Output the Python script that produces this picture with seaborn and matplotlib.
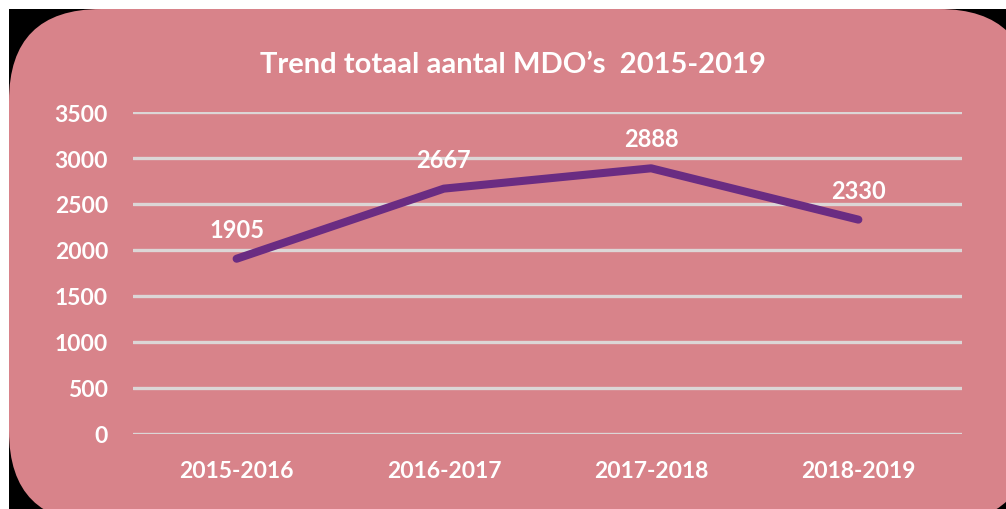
import matplotlib
matplotlib.use("Agg")
import matplotlib.pyplot as plt
from matplotlib.patches import FancyBboxPatch, Rectangle
import pandas as pd
import seaborn as sns

periods = ["2015-2016", "2016-2017", "2017-2018", "2018-2019"]
totals = [1905, 2667, 2888, 2330]
y_ticks = [0, 500, 1000, 1500, 2000, 2500, 3000, 3500]
title = "Trend totaal aantal MDO\u2019s  2015-2019"

pink = "#D8838A"
purple = "#6A2C82"
grid_c = "#DCD6D6"

sns.set_style("white")
plt.rcParams["font.family"] = ["Lato", "DejaVu Sans"]
plt.rcParams["font.weight"] = "bold"

df = pd.DataFrame({"periode": periods, "totaal": totals})
df["pos"] = range(len(df))

W, H = 1006, 510
fig = plt.figure(figsize=(W / 100, H / 100), dpi=100)
fig.patch.set_facecolor("white")

# black frame behind the rounded pink panel
fig.patches.append(Rectangle((9 / W, 0), 1, 1 - 10 / H, transform=fig.transFigure,
                             facecolor="black", edgecolor="none", zorder=-2))
r = 92
fig.patches.append(FancyBboxPatch((9, -14), 1022, 510 - 10 + 14, boxstyle=f"round,pad=0,rounding_size={r}",
                                  transform=None, facecolor=pink, edgecolor="none", zorder=-1))

ax = fig.add_axes([133 / W, 1 - 435 / H, (962 - 133) / W, (435 - 113) / H])
ax.set_facecolor("none")
ax.set_xlim(-0.5, 3.5)
ax.set_ylim(0, 3500)

for yv in y_ticks:
    ax.axhline(yv, color=grid_c, lw=2.4, zorder=1)

sns.lineplot(data=df, x="pos", y="totaal", ax=ax, color=purple, lw=5.8,
             solid_capstyle="round", zorder=3)

for x, v in zip(df["pos"], df["totaal"]):
    ax.annotate(str(v), (x, v), xytext=(0, 13), textcoords="offset points",
                ha="center", va="bottom", color="white", fontsize=17, fontweight="bold")

ax.set_xticks(df["pos"])
ax.set_xticklabels(periods)
ax.set_yticks(y_ticks)
ax.tick_params(axis="both", length=0, colors="white", labelsize=16.5)
ax.tick_params(axis="x", pad=19)
ax.tick_params(axis="y", pad=18)
for lab in ax.get_xticklabels() + ax.get_yticklabels():
    lab.set_fontweight("bold")
ax.set_xlabel("")
ax.set_ylabel("")
sns.despine(ax=ax, left=True, bottom=True)

fig.text(513 / W, 1 - 65 / H, title, ha="center", va="center", color="white",
         fontsize=21, fontweight="bold")

fig.savefig("out.png", dpi=100)
